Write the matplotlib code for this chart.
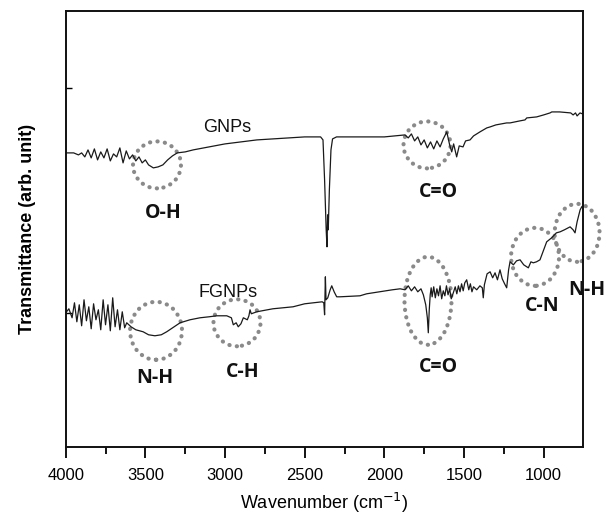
import matplotlib
matplotlib.use("Agg")
import matplotlib.pyplot as plt
from matplotlib.patches import Ellipse

# FTIR spectra (wavenumber in cm-1, transmittance in arb. units)
gnps_wn = [4000, 3950, 3920, 3900, 3880, 3860, 3840, 3820, 3800, 3780, 3760, 3740, 3720,
           3700, 3680, 3660, 3640, 3620, 3600, 3580, 3560, 3540, 3520, 3500, 3480, 3450,
           3420, 3390, 3360, 3330, 3300, 3250, 3200, 3100, 3000, 2900, 2800, 2700, 2600,
           2500, 2400, 2385, 2375, 2365, 2360, 2356, 2352, 2345, 2335, 2325, 2300, 2000,
           1870, 1850, 1830, 1810, 1790, 1770, 1750, 1730, 1710, 1690, 1670, 1650, 1630,
           1608, 1590, 1577, 1565, 1546, 1530, 1506, 1490, 1462, 1440, 1400, 1357, 1336,
           1300, 1232, 1211, 1150, 1117, 1106, 1044, 1000, 960, 949, 900, 830, 815, 800,
           790, 772, 755]
gnps_t = [294, 294, 292, 294, 290, 297, 289, 298, 287, 295, 289, 298, 286,
          293, 290, 299, 284, 296, 288, 292, 286, 290, 284, 287, 282, 279,
          280, 282, 287, 291, 294, 295, 297, 300, 303, 305, 307, 308, 309,
          310, 310, 307, 267, 217, 200, 232, 217, 257, 297, 308, 310, 310,
          312, 309, 313, 306, 310, 302, 307, 299, 305, 298, 306, 300, 308,
          315, 302, 295, 303, 290, 301, 300, 306, 307, 311, 315, 319, 320,
          322, 324, 324, 326, 327, 329, 330, 332, 334, 335, 335, 334, 332, 334,
          331, 334, 333]

fgnps_wn = [4000, 3980, 3960, 3945, 3930, 3915, 3900, 3885, 3870, 3855, 3840, 3825, 3810,
            3795, 3780, 3765, 3750, 3735, 3720, 3705, 3690, 3675, 3660, 3645, 3630, 3617,
            3590, 3560, 3514, 3480, 3440, 3400, 3366, 3320, 3282, 3220, 3157, 3100, 3052,
            2989, 2960, 2948, 2930, 2917, 2900, 2885, 2860, 2850, 2843, 2835, 2801, 2700,
            2573, 2500, 2390, 2380, 2375, 2370, 2366, 2355, 2340, 2330, 2315, 2299, 2278,
            2153, 2111, 1950, 1901, 1870, 1850, 1830, 1810, 1790, 1770, 1755, 1740, 1730,
            1724, 1718, 1712, 1706, 1700, 1690, 1680, 1670, 1660, 1650, 1640, 1630, 1620,
            1610, 1600, 1590, 1580, 1567, 1555, 1545, 1535, 1525, 1515, 1505, 1495, 1483,
            1470, 1460, 1450, 1440, 1420, 1400, 1385, 1379, 1372, 1355, 1336, 1320, 1305,
            1290, 1274, 1260, 1245, 1232, 1220, 1211, 1190, 1170, 1148, 1125, 1096, 1080,
            1065, 1045, 1023, 1000, 981, 950, 920, 897, 870, 834, 815, 803, 790, 771, 761,
            755]
fgnps_t = [134, 138, 129, 144, 125, 142, 121, 147, 126, 140, 118, 143, 127,
           137, 117, 147, 122, 142, 116, 149, 120, 137, 117, 135, 119, 124,
           120, 117, 115, 112, 111, 112, 115, 120, 124, 127, 129, 130, 131,
           131, 129, 122, 124, 120, 123, 129, 127, 131, 137, 133, 135, 138,
           140, 143, 145, 144, 132, 170, 147, 149, 157, 161, 155, 150, 150,
           151, 153, 157, 158, 157, 161, 156, 160, 155, 158, 152, 142, 129,
           114, 137, 152, 159, 150, 160, 149, 158, 151, 161, 148, 156, 151,
           161, 152, 158, 148, 154, 160, 153, 161, 155, 163, 156, 164, 167,
           157, 163, 155, 160, 157, 161, 159, 149, 162, 173, 175, 169, 174,
           167, 177, 168, 163, 159, 177, 185, 182, 186, 187, 182, 179, 185,
           184, 185, 187, 197, 205, 209, 214, 215, 217, 220, 217, 214, 225, 237, 240,
           241]

# band markers: label, ellipse centre (wn, t), ellipse size (wn, t), label position
bands = [
    ("O-H", (3427, 282), (301, 47), (3389, 234)),
    ("C=O", (1732, 302), (295, 47), (1663, 255)),
    ("N-H", (3433, 116), (326, 58), (3439, 69)),
    ("C-H", (2925, 124), (295, 47), (2886, 75)),
    ("C=O", (1726, 146), (295, 88), (1663, 80)),
    ("C-N", (1054, 190), (301, 58), (1010, 141)),
    ("N-H", (790, 214), (282, 58), (728, 157)),
]
sample_names = ["GNPs", "FGNPs"]
sample_label_pos = [(2987, 319), (2980, 154)]

fig = plt.figure(figsize=(6.05, 5.16), dpi=100)
ax = fig.add_axes([0.1086, 0.1343, 0.8545, 0.8444])

ax.plot(gnps_wn, gnps_t, color="#1a1a1a", lw=0.9)
ax.plot(fgnps_wn, fgnps_t, color="#1a1a1a", lw=0.9)

for label, centre, size, lpos in bands:
    e = Ellipse(centre, size[0], size[1], fill=False, edgecolor="#8a8a8a",
                lw=3.0, linestyle=(0, (0.05, 1.75)), clip_on=False)
    e.set_capstyle("round")
    ax.add_patch(e)
    ax.text(lpos[0], lpos[1], label, ha="center", va="center", fontsize=14,
            fontweight="bold", family="Open Sans", color="#111111")

for name, pos in zip(sample_names, sample_label_pos):
    ax.text(pos[0], pos[1], name, ha="center", va="center", fontsize=13,
            family="Liberation Sans", color="#111111")

ax.set_xlim(4000, 755)
ax.set_ylim(0, 436)
ax.set_xticks([4000, 3500, 3000, 2500, 2000, 1500, 1000])
ax.set_xticks([3750, 3250, 2750, 2250, 1750, 1250], minor=True)
ax.set_yticks([])
ax.set_yticks([134, 359], minor=True)
ax.tick_params(axis="x", which="major", direction="out", length=8, width=1.3,
               labelsize=12, pad=7)
ax.tick_params(axis="x", which="minor", direction="out", length=5, width=1.3)
ax.tick_params(axis="y", which="minor", direction="in", length=4, width=1)
for lab in ax.get_xticklabels():
    lab.set_family("Liberation Sans")
for s in ax.spines.values():
    s.set_linewidth(1.4)
    s.set_color("#111111")

ax.set_xlabel("Wavenumber (cm$^{-1}$)", fontsize=13, family="Liberation Sans", labelpad=6)
ax.set_ylabel("Transmittance (arb. unit)", fontsize=13, fontweight="bold",
              family="Liberation Sans", labelpad=18)

fig.savefig("out.png", dpi=100)
